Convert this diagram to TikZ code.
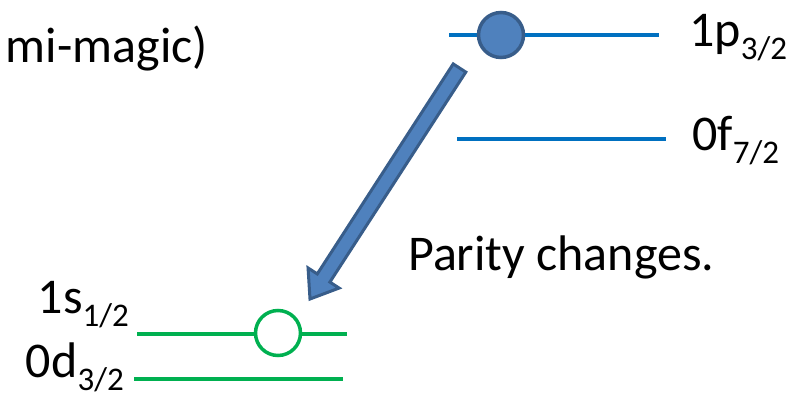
\documentclass[tikz,border=0pt]{standalone}
\usepackage{fontspec}
\setmainfont{Carlito}
\usetikzlibrary{calc}

\definecolor{lvlblue}{HTML}{0070C0}
\definecolor{lvlgreen}{HTML}{00B050}
\definecolor{partfill}{HTML}{4F81BD}
\definecolor{partedge}{HTML}{385D8A}

% orbital label subscript, set smaller and lowered
\newcommand{\lvlsub}[1]{\raisebox{-13pt}{\fontsize{33}{33}\selectfont #1}}

\begin{document}
\begin{tikzpicture}[x=1pt,y=-1pt,
  level/.style={line width=3.5pt},
  bluelevel/.style={level,draw=lvlblue},
  greenlevel/.style={level,draw=lvlgreen},
  label text/.style={inner sep=0pt,font=\fontsize{50}{58}\selectfont},
  particle/.style={circle,minimum size=45pt,inner sep=0pt,line width=3.5pt,draw=partedge,fill=partfill},
  hole/.style={circle,minimum size=45pt,inner sep=0pt,line width=3.5pt,draw=lvlgreen,fill=white},
  jump/.style={line width=3pt,draw=partedge,fill=partfill,line join=miter}]
\useasboundingbox (0,0) rectangle (801,396);

% upper shell: 1p3/2 and 0f7/2
\coordinate (p1L) at (449,35);  \coordinate (p1R) at (659,35);
\coordinate (f0L) at (457,139); \coordinate (f0R) at (666,139);
\draw[bluelevel] (p1L) -- (p1R);
\draw[bluelevel] (f0L) -- (f0R);
\node[particle] (nucleon) at (501,35) {};

% lower shell: 1s1/2 and 0d3/2
\coordinate (s1L) at (137,334); \coordinate (s1R) at (347,334);
\coordinate (d0L) at (134,379); \coordinate (d0R) at (343,379);
\draw[greenlevel] (s1L) -- (s1R);
\draw[greenlevel] (d0L) -- (d0R);
\node[hole] (vacancy) at (278,333) {};

% labels
\node[label text,anchor=base west] (lp) at (689,47) {1p\lvlsub{3/2}};
\node[label text,anchor=base west] (lf) at (692,150) {0f\lvlsub{7/2}};
\node[label text,anchor=base east] (ls) at (129,313) {1s\lvlsub{1/2}};
\node[label text,anchor=base east] (ld) at (124,377) {0d\lvlsub{3/2}};
\node[label text,anchor=base west] (parity) at (408,270) {Parity changes.};
\node[label text,anchor=base east] (title) at (208,63) {mi-magic)};

% block arrow from the upper level down to the hole
\coordinate (T) at (459.5,68);
\coordinate (P) at (310,299);
\coordinate (H) at ($(P)!25pt!(T)$);
\path[jump]
  ($(T)!7.5pt!90:(P)$) -- ($(H)!7.5pt!-90:(T)$) -- ($(H)!18.5pt!-90:(T)$)
  -- (P) -- ($(H)!18.5pt!90:(T)$) -- ($(H)!7.5pt!90:(T)$)
  -- ($(T)!7.5pt!-90:(P)$) -- cycle;
\end{tikzpicture}
\end{document}
